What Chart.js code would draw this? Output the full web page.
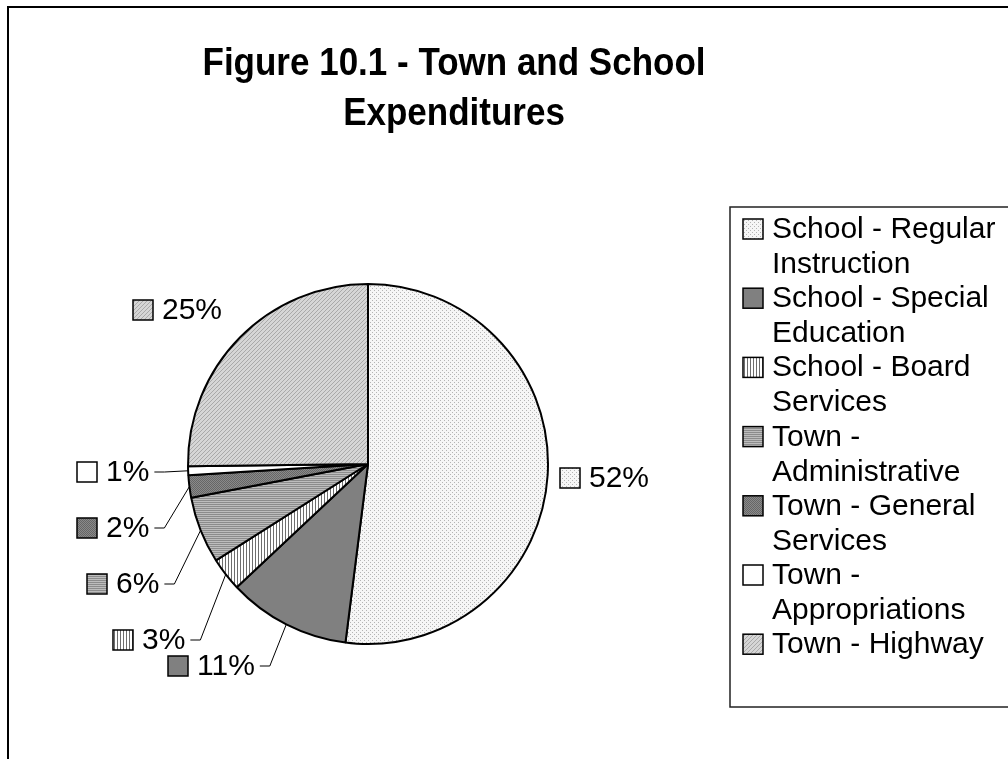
<!DOCTYPE html>
<html>
<head>
<meta charset="utf-8">
<script src="https://cdn.jsdelivr.net/npm/chart.js@4.4.0/dist/chart.umd.min.js"></script>
<style>
  html, body { margin: 0; padding: 0; background: #fff; overflow: hidden; }
  #wrap { position: relative; width: 1008px; height: 759px; }
  #frame { position: absolute; left: 7px; top: 6px; width: 1100px; height: 900px; border: 2px solid #000; }
  #chart-box { position: absolute; left: 0; top: 0; width: 1008px; height: 759px; }
</style>
</head>
<body>
<div id="wrap">
  <div id="frame"></div>
  <div id="chart-box"><canvas id="pieChart"></canvas></div>
</div>
<script>
// chart data
var titleLines = ['Figure 10.1 - Town and School', 'Expenditures'];
var categories = [
    'School - Regular Instruction',
    'School - Special Education',
    'School - Board Services',
    'Town - Administrative',
    'Town - General Services',
    'Town - Appropriations',
    'Town - Highway'
];
var shares = [52, 11, 3, 6, 2, 0.8, 25.2];

// pattern fills, made like the old excel hatch swatches
function makePattern(w, h, paint) {
    var c = document.createElement('canvas');
    c.width = w; c.height = h;
    var g = c.getContext('2d');
    paint(g);
    return document.createElement('canvas').getContext('2d').createPattern(c, 'repeat');
}
function px(g, color, x, y) { g.fillStyle = color; g.fillRect(x, y, 1, 1); }

var fills = [
    makePattern(4, 4, function (g) {           // light dots
        g.fillStyle = '#f6f6f6'; g.fillRect(0, 0, 4, 4);
        px(g, '#b4b4b4', 0, 0); px(g, '#b4b4b4', 2, 2);
    }),
    '#808080',                                  // solid grey
    makePattern(3, 1, function (g) {           // vertical lines
        g.fillStyle = '#ffffff'; g.fillRect(0, 0, 3, 1);
        px(g, '#6e6e6e', 0, 0);
    }),
    makePattern(1, 2, function (g) {           // horizontal lines
        px(g, '#8c8c8c', 0, 0); px(g, '#bdbdbd', 0, 1);
    }),
    makePattern(2, 2, function (g) {           // dark dots
        g.fillStyle = '#8a8a8a'; g.fillRect(0, 0, 2, 2);
        px(g, '#666666', 0, 0); px(g, '#666666', 1, 1);
    }),
    '#ffffff',
    makePattern(4, 4, function (g) {           // diagonal hatch
        g.fillStyle = '#d6d6d6'; g.fillRect(0, 0, 4, 4);
        for (var i = 0; i < 4; i++) px(g, '#a9a9a9', i, 3 - i);
    })
];

// where excel parked each data label, relative to the pie centre (px)
var labelSpots = [
    { dx: 192, dy: 14, leader: false },
    { dx: -200, dy: 202, leader: true },
    { dx: -255, dy: 176, leader: true },
    { dx: -281, dy: 120, leader: true },
    { dx: -291, dy: 64, leader: true },
    { dx: -291, dy: 8, leader: true },
    { dx: -235, dy: -154, leader: false }
];

var FONT = '30px "Liberation Sans", Arial, sans-serif';

function wrapText(ctx, text, maxWidth) {
    var words = text.split(' ');
    var lines = [];
    var line = '';
    for (var i = 0; i < words.length; i++) {
        var test = line ? line + ' ' + words[i] : words[i];
        if (line && ctx.measureText(test).width > maxWidth) {
            lines.push(line);
            line = words[i];
        } else {
            line = test;
        }
    }
    if (line) lines.push(line);
    return lines;
}

function swatch(ctx, fill, x, y, size) {
    ctx.fillStyle = fill;
    ctx.fillRect(x, y, size, size);
    ctx.lineWidth = 1.5;
    ctx.strokeStyle = '#000';
    ctx.strokeRect(x, y, size, size);
}

var decorPlugin = {
    id: 'decor',
    afterDraw: function (chart) {
        var ctx = chart.ctx;
        var meta = chart.getDatasetMeta(0);
        var values = chart.data.datasets[0].data;
        var total = values.reduce(function (a, b) { return a + b; }, 0);

        ctx.save();
        // title, a bit taller than plain arial like the original
        ctx.fillStyle = '#000';
        ctx.textAlign = 'center';
        ctx.textBaseline = 'alphabetic';
        ctx.font = 'bold 35px "Liberation Sans", Arial, sans-serif';
        var titleBase = [75, 125];
        for (var t = 0; t < titleLines.length; t++) {
            ctx.save();
            ctx.translate(454, titleBase[t]);
            ctx.scale(1, 1.1);
            ctx.fillText(titleLines[t], 0, 0);
            ctx.restore();
        }

        // data labels + leader lines
        ctx.font = FONT;
        ctx.textAlign = 'left';
        ctx.textBaseline = 'middle';
        for (var i = 0; i < meta.data.length; i++) {
            var arc = meta.data[i];
            var spot = labelSpots[i];
            var lx = arc.x + spot.dx;
            var ly = arc.y + spot.dy;
            var txt = Math.round(values[i] / total * 100) + '%';
            swatch(ctx, fills[i], lx, ly - 10, 20);
            ctx.fillStyle = '#000';
            ctx.fillText(txt, lx + 29, ly + 1);
            if (spot.leader) {
                var endX = lx + 29 + ctx.measureText(txt).width;
                var mid = (arc.startAngle + arc.endAngle) / 2;
                var ex = arc.x + Math.cos(mid) * arc.outerRadius;
                var ey = arc.y + Math.sin(mid) * arc.outerRadius;
                ctx.beginPath();
                ctx.moveTo(endX + 5, ly);
                ctx.lineTo(endX + 15, ly);
                ctx.lineTo(ex, ey);
                ctx.lineWidth = 1;
                ctx.strokeStyle = '#000';
                ctx.stroke();
            }
        }

        // legend box
        ctx.lineWidth = 1.5;
        ctx.strokeStyle = '#222';
        ctx.strokeRect(730, 207, 320, 500);
        var baseY = 238;
        for (var j = 0; j < chart.data.labels.length; j++) {
            var y = baseY + j * 69.2;
            swatch(ctx, fills[j], 743, y - 19, 20);
            ctx.fillStyle = '#000';
            ctx.textBaseline = 'alphabetic';
            var lines = wrapText(ctx, chart.data.labels[j], 234);
            for (var k = 0; k < lines.length; k++) {
                ctx.fillText(lines[k], 772, y + k * 35);
            }
        }
        ctx.restore();
    }
};

var ctx = document.getElementById('pieChart').getContext('2d');
var pieChart = new Chart(ctx, {
    type: 'pie',
    data: {
        labels: categories,
        datasets: [{
            data: shares,
            backgroundColor: fills,
            borderColor: '#000',
            borderWidth: 2
        }]
    },
    options: {
        responsive: true,
        maintainAspectRatio: false,
        animation: false,
        layout: {
            padding: { left: 187, right: 459, top: 283, bottom: 114 }
        },
        plugins: {
            legend: { display: false },
            title: { display: false },
            tooltip: { enabled: false }
        }
    },
    plugins: [decorPlugin]
});
</script>
</body>
</html>
